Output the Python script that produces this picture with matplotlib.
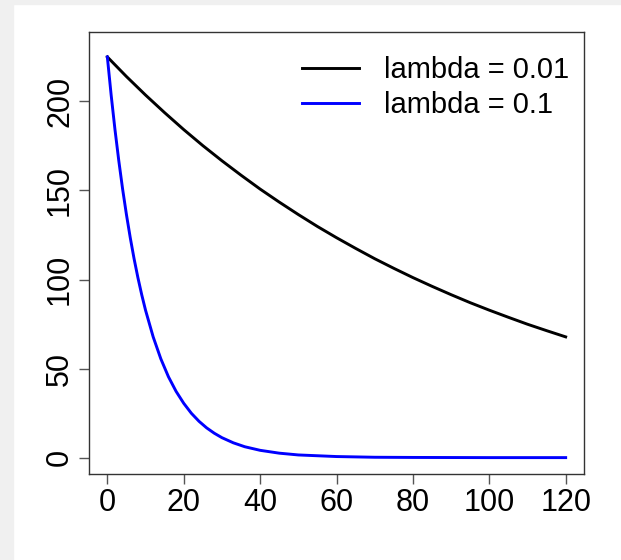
import matplotlib
matplotlib.use("Agg")
import matplotlib.pyplot as plt
from matplotlib.patches import Rectangle

plt.rcParams["font.family"] = ["Liberation Sans", "DejaVu Sans"]

# values
x_slow = [0, 5, 10, 15, 20, 25, 30, 35, 40, 45, 50, 55, 60, 65, 70, 75, 80, 85, 90, 95, 100, 105, 110, 115, 120]
y_slow = [225, 214.0, 203.6, 193.7, 184.2, 175.2, 166.7, 158.6, 150.8, 143.5, 136.5, 129.8, 123.5,
          117.5, 111.7, 106.3, 101.1, 96.2, 91.5, 87.0, 82.8, 78.8, 74.9, 71.3, 67.8]

x_fast = [0, 1, 2, 3, 4, 5, 6, 7, 8, 9, 10, 12, 14, 16, 18, 20, 22, 24, 26, 28, 30, 33, 36, 40,
          45, 50, 60, 70, 80, 100, 120]
y_fast = [225, 203.6, 184.2, 166.7, 150.8, 136.5, 123.5, 111.7, 101.1, 91.5, 82.8, 67.8, 55.5,
          45.4, 37.2, 30.5, 24.9, 20.4, 16.7, 13.7, 11.2, 8.3, 6.1, 4.1, 2.5, 1.5, 0.6, 0.2,
          0.1, 0.0, 0.0]

labels = ["lambda = 0.01", "lambda = 0.1"]
xticks = [0, 20, 40, 60, 80, 100, 120]
yticks = [0, 50, 100, 150, 200]

W, H = 621, 560
fig = plt.figure(figsize=(W / 100, H / 100), dpi=100)
fig.patch.set_facecolor("white")
# grey strips of the surrounding window
fig.patches.append(Rectangle((0, 0), 13 / W, 1, transform=fig.transFigure, color="#f0f0f0", zorder=0))
fig.patches.append(Rectangle((0, 1 - 4 / H), 1, 4 / H, transform=fig.transFigure, color="#f0f0f0", zorder=0))

ax = fig.add_axes([89 / W, 1 - 474 / H, (584 - 89) / W, (474 - 32) / H])
ax.plot(x_slow, y_slow, color="black", lw=2.1, label=labels[0])
ax.plot(x_fast, y_fast, color="blue", lw=2.1, label=labels[1])

ax.set_xlim(-4.8, 124.8)
ax.set_ylim(-9.2, 239)
ax.set_xticks(xticks)
ax.set_yticks(yticks)
ax.set_yticklabels([str(v) for v in yticks], rotation=90, va="center")
ax.tick_params(labelsize=22, length=7, width=1, color="#555555", pad=3)

for s in ax.spines.values():
    s.set_linewidth(1)
    s.set_color("#333333")

ax.legend(frameon=False, fontsize=21, loc="upper left",
          bbox_to_anchor=(302 / W, 1 - 56 / H), bbox_transform=fig.transFigure,
          borderpad=0, borderaxespad=0, handlelength=1.95, handletextpad=0.85,
          labelspacing=0.25)

fig.savefig("out.png", dpi=100)
